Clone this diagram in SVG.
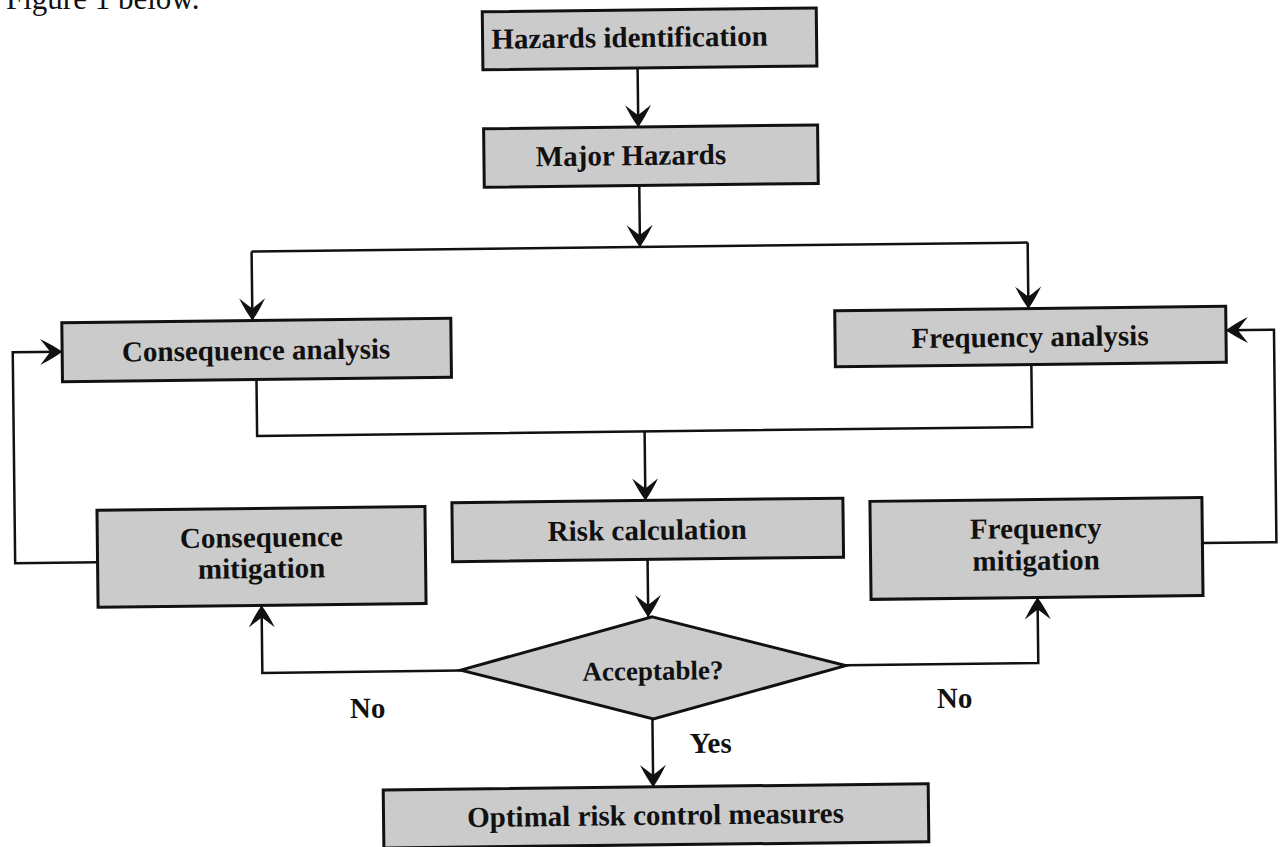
<svg xmlns="http://www.w3.org/2000/svg" width="1283" height="847" viewBox="0 0 1283 847">
<style>
.box{fill:#cbcbcb;stroke:#111;stroke-width:3}
.lbl{font-family:"Liberation Serif","Times New Roman",serif;font-weight:bold;font-size:29px;fill:#111;text-anchor:middle}
.free{font-family:"Liberation Serif","Times New Roman",serif;font-weight:bold;font-size:29px;fill:#111}
.cap{font-family:"Liberation Serif","Times New Roman",serif;font-size:31px;fill:#111}
.con{fill:none;stroke:#111;stroke-width:2.5}
.arr{marker-end:url(#ah)}
</style>
<defs>
<marker id="ah" viewBox="-24 -14 26 28" refX="0" refY="0" markerWidth="26" markerHeight="28" markerUnits="userSpaceOnUse" orient="auto">
<path d="M0,0 Q-8,-6 -22,-13 Q-14,-3 -12,0 Q-14,3 -22,13 Q-8,6 0,0 Z" fill="#111"/>
</marker>
</defs>
<rect width="1283" height="847" fill="#fff"/>
<text class="cap" x="6" y="9">Figure 1 below.</text>
<g transform="rotate(-0.66 641 423)">
<g id="connectors">
<path class="con arr" d="M641.7,68 V127"/>
<path class="con arr" d="M642,185.5 V247"/>
<path class="con" d="M253.6,247 H1029.7"/>
<path class="con arr" d="M253.6,247 V316"/>
<path class="con arr" d="M1029.7,247 V313"/>
<path class="con" d="M257,375 V431.5 H1032 V369"/>
<path class="con arr" d="M644.5,431.5 V500.5"/>
<path class="con arr" d="M646,559.5 V617"/>
<path class="con arr" d="M649,719 V787"/>
<path class="con arr" d="M458,668.5 H259.5 V601"/>
<path class="con arr" d="M843,667.5 H1035.5 V602"/>
<path class="con arr" d="M96,556 H13.6 V345 H63"/>
<path class="con arr" d="M1201,549.5 H1275 V337 H1227"/>
</g>
<g id="n-hazid"><rect class="box" x="487" y="10" width="334" height="58"/><text class="lbl" x="634" y="47">Hazards identification</text></g>
<g id="n-major"><rect class="box" x="487" y="127" width="334" height="58.5"/><text class="lbl" x="634" y="165">Major Hazards</text></g>
<g id="n-conseq"><rect class="box" x="63" y="316" width="389" height="59"/><text class="lbl" x="257" y="355.5">Consequence analysis</text></g>
<g id="n-freq"><rect class="box" x="836" y="313" width="391" height="56"/><text class="lbl" x="1031" y="351">Frequency analysis</text></g>
<g id="n-risk"><rect class="box" x="451" y="500.5" width="391" height="59"/><text class="lbl" x="646" y="540">Risk calculation</text></g>
<g id="n-cmit"><rect class="box" x="96" y="504" width="328" height="97"/><text class="lbl" x="260" y="542.6">Consequence</text><text class="lbl" x="260" y="573.6">mitigation</text></g>
<g id="n-fmit"><rect class="box" x="869" y="504" width="332" height="98"/><text class="lbl" x="1034.5" y="542.6">Frequency</text><text class="lbl" x="1034.5" y="574.6">mitigation</text></g>
<g id="n-accept"><polygon class="box" points="650,617 843,668 650,719 458,668" stroke-width="2.5"/><text class="lbl" x="650" y="680" style="font-size:27px">Acceptable?</text></g>
<g id="n-optimal"><rect class="box" x="379" y="787" width="545" height="58"/><text class="lbl" x="651" y="825">Optimal risk control measures</text></g>
<g id="labels">
<text class="free" x="346.6" y="714.6">No</text>
<text class="free" x="933.7" y="711.4">No</text>
<text class="free" x="686" y="753.6">Yes</text>
</g>
</g>
</svg>
